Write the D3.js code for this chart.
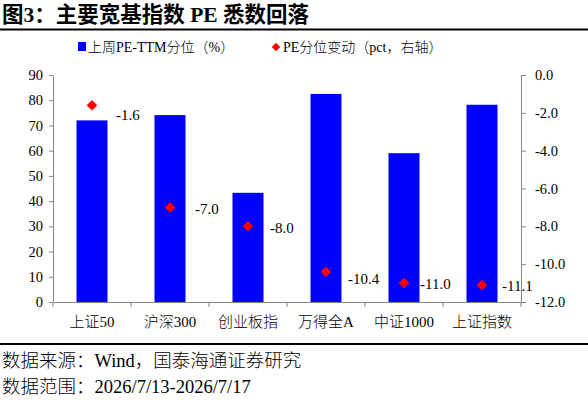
<!DOCTYPE html>
<html>
<head>
<meta charset="utf-8">
<script src="https://cdn.jsdelivr.net/npm/d3@7"></script>
<style>
  body { margin: 0; background: #fff; }
  text { font-family: "Liberation Serif", "Noto Sans CJK SC", serif; fill: #000; font-weight: 300; }
</style>
</head>
<body>
<svg id="chart" width="588" height="400"></svg>
<script>
// chart data
const categories = ["上证50", "沪深300", "创业板指", "万得全A", "中证1000", "上证指数"];
const peQuantile = [72.0, 74.1, 43.3, 82.5, 59.0, 78.2];
const peChange = [-1.6, -7.0, -8.0, -10.4, -11.0, -11.1];
const leftTicks = [0, 10, 20, 30, 40, 50, 60, 70, 80, 90];
const rightTicks = [0, -2, -4, -6, -8, -10, -12];

// label nudges (dx, dy) for the right-axis data labels
const labelNudge = [[24, 9], [25, 1], [22, 1], [22, 7], [16, 1], [20, 1]];

const svg = d3.select("#chart");
const margin = { left: 53, right: 521, top: 75, bottom: 302 };
const axisColor = "#868686";

// title + rules
svg.append("text")
  .attr("x", 2).attr("y", 22)
  .style("font-size", "21.5px").style("font-weight", "bold")
  .text("图3：主要宽基指数 PE 悉数回落");
svg.append("line")
  .attr("x1", 0).attr("x2", 588).attr("y1", 29.5).attr("y2", 29.5)
  .attr("stroke", "#000").attr("stroke-width", 2);
svg.append("line")
  .attr("x1", 0).attr("x2", 588).attr("y1", 344).attr("y2", 344)
  .attr("stroke", "#000").attr("stroke-width", 2);

// scales
const x = d3.scaleBand().domain(categories).range([margin.left, margin.right]).paddingInner(0).paddingOuter(0);
const yLeft = d3.scaleLinear().domain([0, 90]).range([margin.bottom, margin.top]);
const yRight = d3.scaleLinear().domain([-12, 0]).range([margin.bottom, margin.top]);

// bars
const barW = 31;
svg.append("g").selectAll("rect")
  .data(categories)
  .join("rect")
  .attr("x", (d) => x(d) + x.bandwidth() / 2 - barW / 2)
  .attr("y", (d, i) => yLeft(peQuantile[i]))
  .attr("width", barW)
  .attr("height", (d, i) => yLeft(0) - yLeft(peQuantile[i]))
  .attr("fill", "#0000ff");

// axes
const leftAxis = svg.append("g")
  .attr("transform", `translate(${margin.left},0)`)
  .call(d3.axisLeft(yLeft).tickValues(leftTicks).tickSize(4).tickPadding(6).tickSizeOuter(0));
const rightAxis = svg.append("g")
  .attr("transform", `translate(${margin.right},0)`)
  .call(d3.axisRight(yRight).tickValues(rightTicks).tickSize(5).tickPadding(9).tickSizeOuter(0));
rightAxis.selectAll(".tick text").text((d) => d.toFixed(1));

const bottomAxis = svg.append("g")
  .attr("transform", `translate(0,${margin.bottom})`)
  .call(d3.axisBottom(x).tickSize(0).tickPadding(14));
// category separator ticks
svg.append("g").selectAll("line")
  .data(d3.range(categories.length + 1))
  .join("line")
  .attr("x1", (i) => margin.left + i * x.bandwidth())
  .attr("x2", (i) => margin.left + i * x.bandwidth())
  .attr("y1", margin.bottom).attr("y2", margin.bottom + 5)
  .attr("stroke", axisColor);

[leftAxis, rightAxis, bottomAxis].forEach((g) => {
  g.selectAll("path, line").attr("stroke", axisColor);
  g.selectAll("text").attr("fill", "#000");
});
leftAxis.selectAll("text").style("font-size", "14.5px");
rightAxis.selectAll("text").style("font-size", "14.5px");
bottomAxis.selectAll("text").style("font-size", "15px");

// diamonds
const diamond = d3.symbol().type(d3.symbolSquare).size(56);
svg.append("g").selectAll("path")
  .data(categories)
  .join("path")
  .attr("d", diamond)
  .attr("fill", "#ff0000")
  .attr("transform", (d, i) => `translate(${x(d) + x.bandwidth() / 2},${yRight(peChange[i])}) rotate(45)`);

// data labels
svg.append("g").selectAll("text")
  .data(categories)
  .join("text")
  .attr("x", (d, i) => x(d) + x.bandwidth() / 2 + labelNudge[i][0])
  .attr("y", (d, i) => yRight(peChange[i]) + labelNudge[i][1])
  .attr("dy", "0.35em")
  .style("font-size", "15px")
  .text((d, i) => peChange[i].toFixed(1));

// legend
const legend = svg.append("g").style("font-size", "14px");
legend.append("rect").attr("x", 78).attr("y", 42).attr("width", 8).attr("height", 9).attr("fill", "#0000ff");
legend.append("text").attr("x", 88).attr("y", 47).attr("dy", "0.35em").text("上周PE-TTM分位（%）");
legend.append("path")
  .attr("d", d3.symbol().type(d3.symbolSquare).size(36))
  .attr("fill", "#ff0000")
  .attr("transform", "translate(276,47) rotate(45)");
legend.append("text").attr("x", 283).attr("y", 47).attr("dy", "0.35em").text("PE分位变动（pct，右轴）");

// footer
svg.append("text").attr("x", 2).attr("y", 367).style("font-size", "18.5px")
  .text("数据来源：Wind，国泰海通证券研究");
svg.append("text").attr("x", 2).attr("y", 393).style("font-size", "18.5px")
  .text("数据范围：2026/7/13-2026/7/17");
</script>
</body>
</html>
